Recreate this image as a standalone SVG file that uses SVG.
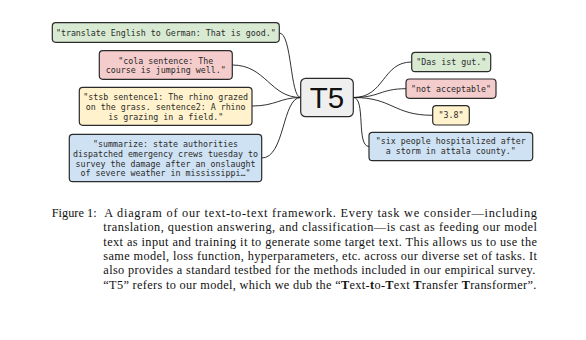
<svg xmlns="http://www.w3.org/2000/svg" width="586" height="340" viewBox="0 0 586 340">
<style>
.box{stroke:#2b2b2b;stroke-width:1.2}
.g{fill:#d9ead3}.r{fill:#f4cccc}.y{fill:#fff2cc}.b{fill:#cfe2f3}.k{fill:#efefef}
.t{font-family:"DejaVu Sans Mono","Liberation Mono",monospace;font-size:8.3px;fill:#2a2a2a;text-anchor:middle}
.c{fill:none;stroke:#1a1a1a;stroke-width:0.9}
.cap{font-family:"Liberation Serif","DejaVu Serif",serif;font-size:12.3px;fill:#111}
</style>
<rect width="586" height="340" fill="#fff"/>
<g id="connectors">
<path class="c" d="M279.3,33 C292,33 290,97.5 300.7,97.5"/>
<path class="c" d="M232.3,65 C266,65 270,97.5 300.7,97.5"/>
<path class="c" d="M252,106 C276,106 280,97.5 300.7,97.5"/>
<path class="c" d="M261.7,158 C285,158 282,97.5 300.7,97.5"/>
<path class="c" d="M353.3,97.5 C385,97.5 382,62 411.7,62"/>
<path class="c" d="M353.3,97.5 C380,97.5 380,88.7 406,88.7"/>
<path class="c" d="M353.3,97.5 C393,97.5 393,115.3 432.7,115.3"/>
<path class="c" d="M353.3,97.5 C366,97.5 356,146.5 369,146.5"/>
</g>
<g id="n-translate">
<rect class="box g" x="52.3" y="22.7" width="227" height="19.6" rx="3.5"/>
<text class="t" x="165.8" y="35.6">"translate English to German: That is good."</text>
</g>
<g id="n-cola">
<rect class="box r" x="99.3" y="50.7" width="133" height="28.6" rx="3.5"/>
<text class="t" x="165.8" y="63.6">"cola sentence: The</text>
<text class="t" x="165.8" y="73.4">course is jumping well."</text>
</g>
<g id="n-stsb">
<rect class="box y" x="79.3" y="87.3" width="172.7" height="38" rx="3.5"/>
<text class="t" x="165.7" y="100.3">"stsb sentence1: The rhino grazed</text>
<text class="t" x="165.7" y="110">on the grass. sentence2: A rhino</text>
<text class="t" x="165.7" y="119.7">is grazing in a field."</text>
</g>
<g id="n-summarize">
<rect class="box b" x="69.3" y="134.3" width="192.4" height="47.4" rx="3.5"/>
<text class="t" x="165.5" y="147.3">"summarize: state authorities</text>
<text class="t" x="165.5" y="157">dispatched emergency crews tuesday to</text>
<text class="t" x="165.5" y="166.7">survey the damage after an onslaught</text>
<text class="t" x="165.5" y="176.4">of severe weather in mississippi…"</text>
</g>
<g id="n-t5">
<rect class="box k" x="300.7" y="78.3" width="52.6" height="38.4" rx="5" stroke-width="1.4"/>
<text x="327" y="107.5" font-family="Liberation Sans,Arial,sans-serif" font-size="29.5" fill="#111" text-anchor="middle">T5</text>
</g>
<g id="n-das">
<rect class="box g" x="411.7" y="52.3" width="79" height="19.4" rx="3.5"/>
<text class="t" x="451.2" y="65">"Das ist gut."</text>
</g>
<g id="n-not">
<rect class="box r" x="406" y="79" width="90" height="19.3" rx="3.5"/>
<text class="t" x="451" y="91.7">"not acceptable"</text>
</g>
<g id="n-38">
<rect class="box y" x="432.7" y="105.7" width="36.6" height="19.3" rx="3.5"/>
<text class="t" x="451" y="118.3">"3.8"</text>
</g>
<g id="n-six">
<rect class="box b" x="369" y="132.3" width="163.7" height="28.4" rx="3.5"/>
<text class="t" x="450.8" y="144.2">"six people hospitalized after</text>
<text class="t" x="450.8" y="154">a storm in attala county."</text>
</g>
<g id="caption" class="cap">
<text x="51.7" y="217" textLength="45" lengthAdjust="spacing">Figure 1:</text>
<text x="104.3" y="217" textLength="432.7" lengthAdjust="spacing">A diagram of our text-to-text framework.  Every task we consider—including</text>
<text x="103.3" y="231.3" textLength="433.7" lengthAdjust="spacing">translation, question answering, and classification—is cast as feeding our model</text>
<text x="103.3" y="245.6" textLength="433.7" lengthAdjust="spacing">text as input and training it to generate some target text.  This allows us to use the</text>
<text x="103.3" y="259.9" textLength="433.7" lengthAdjust="spacing">same model, loss function, hyperparameters, etc. across our diverse set of tasks.  It</text>
<text x="103.3" y="274.2" textLength="432" lengthAdjust="spacing">also provides a standard testbed for the methods included in our empirical survey.</text>
<text x="103.3" y="288.5" textLength="433" lengthAdjust="spacing">“T5” refers to our model, which we dub the “<tspan font-weight="bold">T</tspan>ext-<tspan font-weight="bold">t</tspan>o-<tspan font-weight="bold">T</tspan>ext <tspan font-weight="bold">T</tspan>ransfer <tspan font-weight="bold">T</tspan>ransformer”.</text>
</g>
</svg>
